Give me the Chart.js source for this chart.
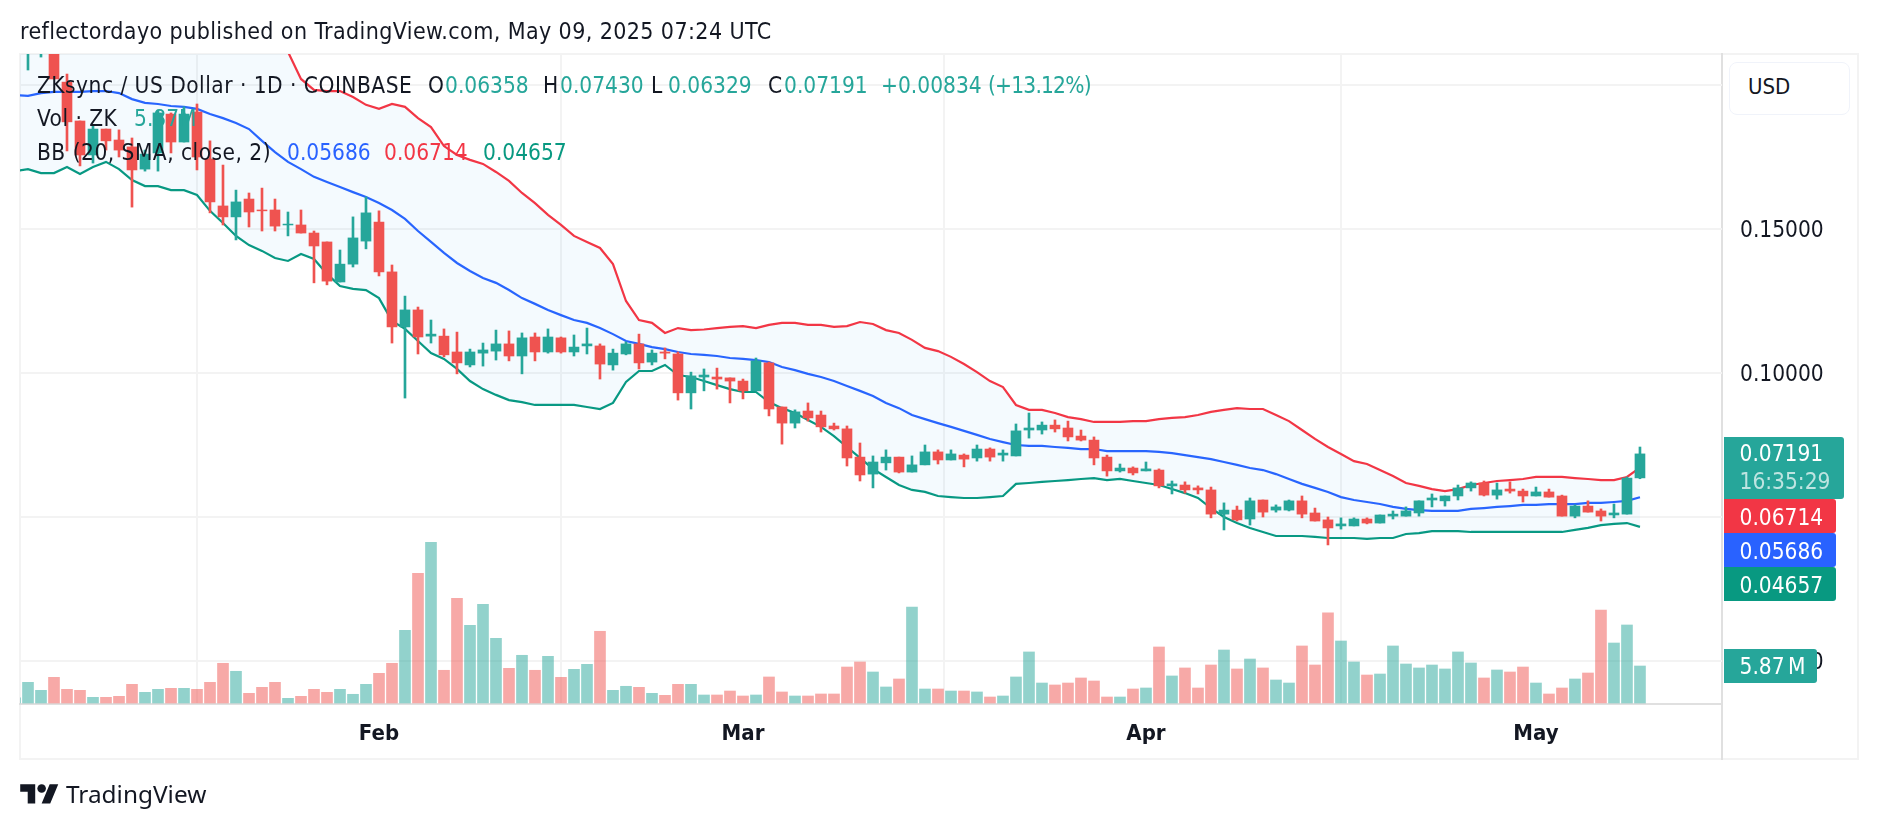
<!DOCTYPE html>
<html>
<head>
<meta charset="utf-8">
<title>ZKsync / US Dollar</title>
<script src="https://cdn.jsdelivr.net/npm/chart.js@4/dist/chart.umd.min.js"></script>
<style>
  html, body { margin: 0; padding: 0; background: #fff; }
  body { width: 1878px; height: 830px; position: relative; overflow: hidden; font-family: "DejaVu Sans Condensed", "DejaVu Sans", sans-serif; font-stretch: condensed; color: #131722; }
  canvas { position: absolute; left: 0; top: 0; }
  .abs { position: absolute; white-space: pre; line-height: 1; }
  .line { position: absolute; background: #f3f3f3; }
  .sep { position: absolute; background: #e0e0e0; }
  .tag { position: absolute; left: 1724px; color: #fff; font-size: 22.5px; border-radius: 0 3px 3px 0; }
  .tag span { position: absolute; left: 15.5px; white-space: pre; line-height: 1; }
  .leg { font-size: 22.5px; }
  .word { letter-spacing: 0.48px; }
  .g { color: #26a69a; }
</style>
</head>
<body>
<div class="line" style="left:19px;top:53px;width:2px;height:707px"></div>
<div class="line" style="left:19px;top:53px;width:1840px;height:2px"></div>
<div class="line" style="left:19px;top:758px;width:1840px;height:2px"></div>
<div class="line" style="left:1857px;top:53px;width:2px;height:707px"></div>
<div class="sep" style="left:1721px;top:53px;width:2px;height:707px"></div>
<canvas id="chart" width="1878" height="830"></canvas>

<div class="abs" id="title" style="left:20px;top:20px;font-size:23px;letter-spacing:0.4px">reflectordayo published on TradingView.com, May 09, 2025 07:24 UTC</div>

<div class="abs leg word" style="left:37px;top:74px">ZKsync / US Dollar · 1D · COINBASE</div>
<div class="abs leg" style="left:428px;top:74px">O</div><div class="abs leg g" style="left:445px;top:74px">0.06358</div>
<div class="abs leg" style="left:543px;top:74px">H</div><div class="abs leg g" style="left:560px;top:74px">0.07430</div>
<div class="abs leg" style="left:651px;top:74px">L</div><div class="abs leg g" style="left:668px;top:74px">0.06329</div>
<div class="abs leg" style="left:768px;top:74px">C</div><div class="abs leg g" style="left:784px;top:74px">0.07191</div>
<div class="abs leg g" style="left:881px;top:74px">+0.00834</div><div class="abs leg g" style="left:988px;top:74px;letter-spacing:-0.8px">(+13.12%)</div>
<div class="abs leg word" style="left:37px;top:107px">Vol · ZK</div><div class="abs leg g" style="left:134px;top:107px">5.87M</div>
<div class="abs leg word" style="left:37px;top:141px">BB (20, SMA, close, 2)</div>
<div class="abs leg" style="left:287px;top:141px;color:#2962ff">0.05686</div>
<div class="abs leg" style="left:384px;top:141px;color:#f23645">0.06714</div>
<div class="abs leg" style="left:483px;top:141px;color:#089981">0.04657</div>

<div class="abs" style="left:1729px;top:62px;width:119px;height:51px;border:1px solid #f0f3fa;border-radius:8px;background:#fff"></div>
<div class="abs" style="left:1748px;top:76px;font-size:22px">USD</div>

<div class="tag" style="top:437px;width:120px;height:62px;background:#26a69a">
  <span style="top:5px">0.07191</span><span style="top:33px;color:rgba(255,255,255,.7)">16:35:29</span>
</div>
<div class="tag" style="top:499px;width:112px;height:34px;background:#f23645"><span style="top:7px">0.06714</span></div>
<div class="tag" style="top:533px;width:112px;height:34px;background:#2962ff"><span style="top:7px">0.05686</span></div>
<div class="tag" style="top:567px;width:112px;height:34px;background:#089981"><span style="top:7px">0.04657</span></div>
<div class="tag" style="top:649px;width:93px;height:34px;background:#26a69a"><span style="top:6px;word-spacing:-3px">5.87 M</span></div>

<svg class="abs" style="left:20px;top:780px" width="39" height="30" viewBox="0 0 36 28" fill="#131722">
  <path d="M14 22H7V11H0V4h14v18zM28 22h-8l7.5-18h8L28 22z"/><circle cx="20" cy="8" r="4"/>
</svg>
<div class="abs" style="left:66px;top:782px;font-size:24.4px;font-family:'Noto Sans',sans-serif;font-stretch:normal">TradingView</div>

<script>
// days are counted from 1 Feb 2025, the first one is 4 Jan
var firstDay = -28;
var tickDays = [0, 28, 59, 89];
var tickMonths = ['Feb', 'Mar', 'Apr', 'May'];
var priceTicks = [0, 0.05, 0.10, 0.15, 0.20];

var opens = [
  .2140,.2120,.2130,.2240,.2010,.1875,.1757,.1847,.1809,.1785,.1708,.1764,.1899,.1802,
  .1906,.1743,.1580,.1542,.1604,.1566,.1566,.1514,.1514,.1486,.1455,.1316,.1378,.1458,
  .1524,.1351,.1160,.1219,.1128,.1128,.1073,.1028,.1069,.1076,
  .1101,.1059,.1125,.1073,.1122,.1073,.1094,.1094,.1028,.1066,
  .1101,.1038,.1073,.1066,.0931,.0986,.0986,.0983,.0972,.0938,
  .1035,.0882,.0826,.0868,.0854,.0816,.0806,.0708,.0649,.0688,
  .0708,.0656,.0681,.0726,.0698,.0715,.0705,.0736,.0715,.0712,
  .0802,.0802,.0819,.0809,.0781,.0767,.0708,.0660,.0670,.0660,
  .0663,.0608,.0611,.0601,.0594,.0510,.0524,.0493,.0559,.0524,
  .0524,.0556,.0514,.0490,.0469,.0469,.0493,.0479,.0503,.0503,
  .0514,.0559,.0556,.0573,.0601,.0618,.0576,.0597,.0590,.0573,
  .0587,.0573,.0503,.0538,.0521,.0507,.0510,.06358
];
var closes = [
  .2180,.2180,.2170,.2021,.1872,.1757,.1847,.1806,.1774,.1705,.1760,.1903,.1802,.1899,
  .1750,.1594,.1542,.1594,.1559,.1563,.1510,.1517,.1486,.1441,.1319,.1378,.1469,.1556,
  .1351,.1160,.1219,.1125,.1135,.1063,.1035,.1073,.1080,.1101,
  .1059,.1122,.1073,.1125,.1073,.1090,.1101,.1031,.1069,.1101,
  .1035,.1069,.1069,.0931,.0990,.0993,.0979,.0972,.0938,.1042,
  .0875,.0826,.0865,.0844,.0813,.0806,.0705,.0646,.0691,.0708,
  .0656,.0681,.0726,.0698,.0719,.0701,.0736,.0708,.0722,.0799,
  .0809,.0819,.0806,.0778,.0767,.0705,.0660,.0670,.0653,.0667,
  .0608,.0615,.0594,.0594,.0510,.0524,.0490,.0556,.0517,.0535,
  .0556,.0510,.0486,.0462,.0476,.0493,.0479,.0507,.0510,.0521,
  .0556,.0566,.0573,.0601,.0618,.0576,.0594,.0590,.0573,.0587,
  .0569,.0503,.0538,.0517,.0503,.0514,.0635,.07191
];
var highs = [
  .2220,.2200,.2190,.2260,.2038,.1875,.1858,.1847,.1844,.1816,.1774,.1913,.1903,.1924,
  .1934,.1806,.1722,.1635,.1625,.1642,.1604,.1559,.1566,.1493,.1455,.1427,.1542,.1611,
  .1563,.1375,.1267,.1229,.1184,.1153,.1142,.1083,.1104,.1149,
  .1146,.1139,.1139,.1153,.1125,.1132,.1156,.1101,.1083,.1108,
  .1135,.1080,.1087,.1073,.1003,.1014,.1017,.0983,.0979,.1052,
  .1038,.0882,.0872,.0896,.0868,.0826,.0816,.0757,.0712,.0733,
  .0708,.0712,.0750,.0733,.0733,.0719,.0750,.0740,.0733,.0823,
  .0861,.0830,.0837,.0833,.0802,.0778,.0715,.0684,.0674,.0691,
  .0667,.0625,.0622,.0608,.0604,.0549,.0538,.0566,.0559,.0542,
  .0559,.0573,.0531,.0500,.0497,.0497,.0497,.0507,.0521,.0535,
  .0556,.0580,.0573,.0611,.0622,.0625,.0618,.0622,.0597,.0604,
  .0597,.0576,.0542,.0556,.0528,.0545,.0639,.0743
];
var lows = [
  .2100,.2052,.2097,.2021,.1771,.1719,.1729,.1774,.1750,.1576,.1701,.1701,.1764,.1802,
  .1705,.1556,.1514,.1462,.1507,.1493,.1493,.1476,.1486,.1313,.1306,.1316,.1368,.1431,
  .1337,.1104,.0913,.1066,.1104,.1056,.0997,.1021,.1024,.1045,
  .1042,.0997,.1042,.1069,.1069,.1059,.1066,.0979,.1010,.1063,
  .1014,.1028,.1049,.0906,.0875,.0938,.0944,.0896,.0910,.0938,
  .0851,.0753,.0809,.0833,.0795,.0802,.0677,.0625,.0601,.0663,
  .0653,.0656,.0681,.0684,.0698,.0674,.0694,.0694,.0694,.0712,
  .0774,.0788,.0795,.0764,.0764,.0681,.0642,.0656,.0646,.0660,
  .0601,.0580,.0583,.0580,.0497,.0455,.0486,.0472,.0500,.0517,
  .0521,.0497,.0486,.0403,.0458,.0469,.0476,.0479,.0493,.0503,
  .0503,.0535,.0538,.0559,.0590,.0573,.0562,.0583,.0552,.0573,
  .0569,.0503,.0497,.0517,.0486,.0497,.0510,.06329
];
var volumes = [
  .80,3.28,2.01,4.07,2.17,2.01,.90,.90,1.06,2.96,1.69,2.17,2.33,2.33,
  2.17,3.28,6.30,5.03,1.53,2.49,3.28,.74,1.06,2.17,1.69,2.17,1.38,2.96,
  4.71,6.30,11.53,20.58,25.50,5.19,16.61,12.33,15.66,10.26,
  5.50,7.57,5.19,7.41,4.07,5.34,6.14,11.38,2.01,2.65,
  2.49,1.53,1.22,2.96,2.96,1.27,1.27,1.90,1.11,1.27,
  4.13,1.75,1.11,1.11,1.43,1.43,5.71,6.51,4.92,2.54,
  3.81,15.24,2.22,2.22,1.90,1.90,1.75,.95,1.11,4.13,
  8.10,3.17,2.86,3.17,3.97,3.49,.95,.95,2.22,2.38,
  8.89,4.29,5.56,2.38,6.03,8.41,5.40,6.98,5.56,3.65,
  3.17,9.05,6.03,14.29,9.84,6.51,4.44,4.60,9.05,6.19,
  5.56,6.03,5.40,8.10,6.35,3.97,5.24,4.92,5.71,3.17,
  1.43,2.38,3.81,4.76,14.76,9.52,12.38,5.87
];
var bbUpper = [
  .310,.309,.308,.306,.305,.303,.300,.297,.295,.291,.287,.283,.279,.275,.271,.266,.260,.254,.246,.236,.224,
  .2115,.2021,.1983,.1979,.1979,.1958,.1931,
  .1917,.1934,.1924,.1885,.1854,.1788,.1757,.1740,.1726,.1698,
  .1667,.1625,.1590,.1549,.1514,.1476,.1455,.1434,.1378,.1250,
  .1184,.1174,.1139,.1156,.1149,.1151,.1156,.1160,.1163,.1156,
  .1167,.1174,.1174,.1167,.1167,.1160,.1163,.1177,.1170,.1149,
  .1139,.1115,.1087,.1076,.1056,.1031,.1003,.0972,.0951,.0889,
  .0872,.0872,.0861,.0847,.0840,.0830,.0830,.0830,.0833,.0833,
  .0840,.0844,.0847,.0854,.0865,.0872,.0878,.0875,.0875,.0854,
  .0833,.0802,.0771,.0743,.0719,.0694,.0684,.0663,.0642,.0618,
  .0608,.0597,.0590,.0597,.0611,.0618,.0625,.0628,.0632,.0639,
  .0639,.0639,.0635,.0632,.0628,.0628,.0639,.06714
];
var bbBasis = [
  .1965,.1962,.1972,.1976,.1976,.1976,.1979,.1979,.1972,.1951,.1938,.1934,.1927,.1924,
  .1917,.1899,.1885,.1868,.1847,.1806,.1767,.1733,.1708,.1681,.1663,.1646,.1628,.1611,
  .1590,.1566,.1535,.1493,.1455,.1417,.1382,.1354,.1330,.1313,
  .1288,.1260,.1240,.1219,.1201,.1184,.1174,.1156,.1135,.1111,
  .1101,.1090,.1083,.1073,.1066,.1063,.1059,.1052,.1049,.1045,
  .1038,.1021,.1010,.0997,.0986,.0972,.0955,.0938,.0920,.0896,
  .0878,.0854,.0840,.0826,.0813,.0799,.0785,.0771,.0760,.0750,
  .0747,.0747,.0743,.0740,.0736,.0736,.0729,.0729,.0729,.0729,
  .0726,.0722,.0715,.0708,.0701,.0691,.0681,.0670,.0663,.0649,
  .0632,.0615,.0601,.0587,.0569,.0559,.0552,.0545,.0535,.0528,
  .0524,.0521,.0521,.0521,.0528,.0531,.0535,.0538,.0542,.0542,
  .0545,.0545,.0545,.0549,.0549,.0552,.0556,.05686
];
var bbLower = [
  .1701,.1708,.1694,.1694,.1715,.1691,.1715,.1733,.1708,.1670,.1649,.1649,.1635,.1635,
  .1618,.1563,.1521,.1476,.1444,.1424,.1399,.1389,.1413,.1396,.1344,.1302,.1292,.1288,
  .1260,.1181,.1153,.1111,.1069,.1049,.1014,.0972,.0944,.0924,
  .0906,.0899,.0889,.0889,.0889,.0889,.0882,.0875,.0896,.0969,
  .1007,.1007,.1028,.0993,.0986,.0972,.0958,.0944,.0934,.0934,
  .0899,.0878,.0861,.0837,.0813,.0781,.0743,.0705,.0667,.0639,
  .0611,.0594,.0587,.0573,.0569,.0566,.0566,.0569,.0573,.0615,
  .0618,.0622,.0625,.0628,.0632,.0635,.0628,.0632,.0625,.0618,
  .0611,.0597,.0583,.0566,.0531,.0500,.0479,.0462,.0448,.0434,
  .0434,.0434,.0431,.0427,.0427,.0427,.0424,.0427,.0427,.0441,
  .0444,.0451,.0451,.0451,.0448,.0448,.0448,.0448,.0448,.0448,
  .0448,.0448,.0455,.0462,.0472,.0476,.0479,.04657
];

var UP = '#26a69a', DOWN = '#ef5350';
var FONT = '"DejaVu Sans Condensed", "DejaVu Sans", sans-serif';

function day(i) { return firstDay + i; }
function isUp(i) { return closes[i] >= opens[i]; }
function series(arr) {
  return arr.map(function(v, i) { return { x: day(i), y: v }; });
}
function candleColors() {
  return opens.map(function(o, i) { return isUp(i) ? UP : DOWN; });
}
function bbLine(label, arr, color, fill) {
  return {
    type: 'line', label: label, data: series(arr), yAxisID: 'y', order: 3,
    borderColor: color, borderWidth: 2.2, pointRadius: 0, tension: 0,
    fill: fill || false, backgroundColor: 'rgba(33, 150, 243, 0.05)'
  };
}

new Chart(document.getElementById('chart').getContext('2d'), {
  data: {
    datasets: [
      {
        type: 'bar', label: 'Vol', yAxisID: 'vol', order: 5, grouped: false, barThickness: 11,
        data: series(volumes),
        backgroundColor: opens.map(function(o, i) { return isUp(i) ? 'rgba(38, 166, 154, 0.5)' : 'rgba(239, 83, 80, 0.5)'; })
      },
      bbLine('Upper', bbUpper, '#f23645', { target: 4 }),
      bbLine('Basis', bbBasis, '#2962ff'),
      {
        type: 'bar', label: 'Wick', yAxisID: 'y', order: 2, grouped: false, barThickness: 2,
        data: lows.map(function(l, i) { return { x: day(i), y: [l, highs[i]] }; }),
        backgroundColor: candleColors()
      },
      bbLine('Lower', bbLower, '#089981'),
      {
        type: 'bar', label: 'Body', yAxisID: 'y', order: 1, grouped: false, barThickness: 10,
        data: opens.map(function(o, i) { return { x: day(i), y: [o, closes[i]] }; }),
        backgroundColor: candleColors()
      }
    ]
  },
  options: {
    responsive: false,
    animation: false,
    devicePixelRatio: 1,
    layout: { padding: { left: 20, top: 54, right: 20, bottom: 71 } },
    plugins: { legend: { display: false }, tooltip: { enabled: false } },
    scales: {
      x: {
        type: 'linear', offset: false, min: -27.615, max: 103.31,
        afterFit: function(s) { s.height = 55; },
        afterBuildTicks: function(s) { s.ticks = tickDays.map(function(d) { return { value: d }; }); },
        grid: { color: '#f3f3f3', lineWidth: 2, drawTicks: false },
        border: { color: '#e0e0e0', width: 2 },
        ticks: {
          autoSkip: false, maxRotation: 0, padding: 17.5, color: '#131722',
          font: { family: FONT, size: 22, weight: 'bold' },
          callback: function(v) { return tickMonths[tickDays.indexOf(v)]; }
        }
      },
      y: {
        position: 'right', min: -0.01493, max: 0.21076,
        afterFit: function(s) { s.width = 136; },
        afterBuildTicks: function(s) { s.ticks = priceTicks.map(function(v) { return { value: v }; }); },
        grid: { color: '#f3f3f3', lineWidth: 2, drawTicks: false },
        border: { display: false },
        ticks: {
          padding: 18, color: '#131722', font: { family: FONT, size: 22.5, lineHeight: '4.8px' },
          // empty first line pushes the label a bit below the gridline, as in TradingView
          callback: function(v) { return ['', v.toFixed(5)]; }
        }
      },
      vol: {
        display: false, min: -0.16, max: 103,
        grid: { display: false }
      }
    }
  }
});
</script>
</body>
</html>
